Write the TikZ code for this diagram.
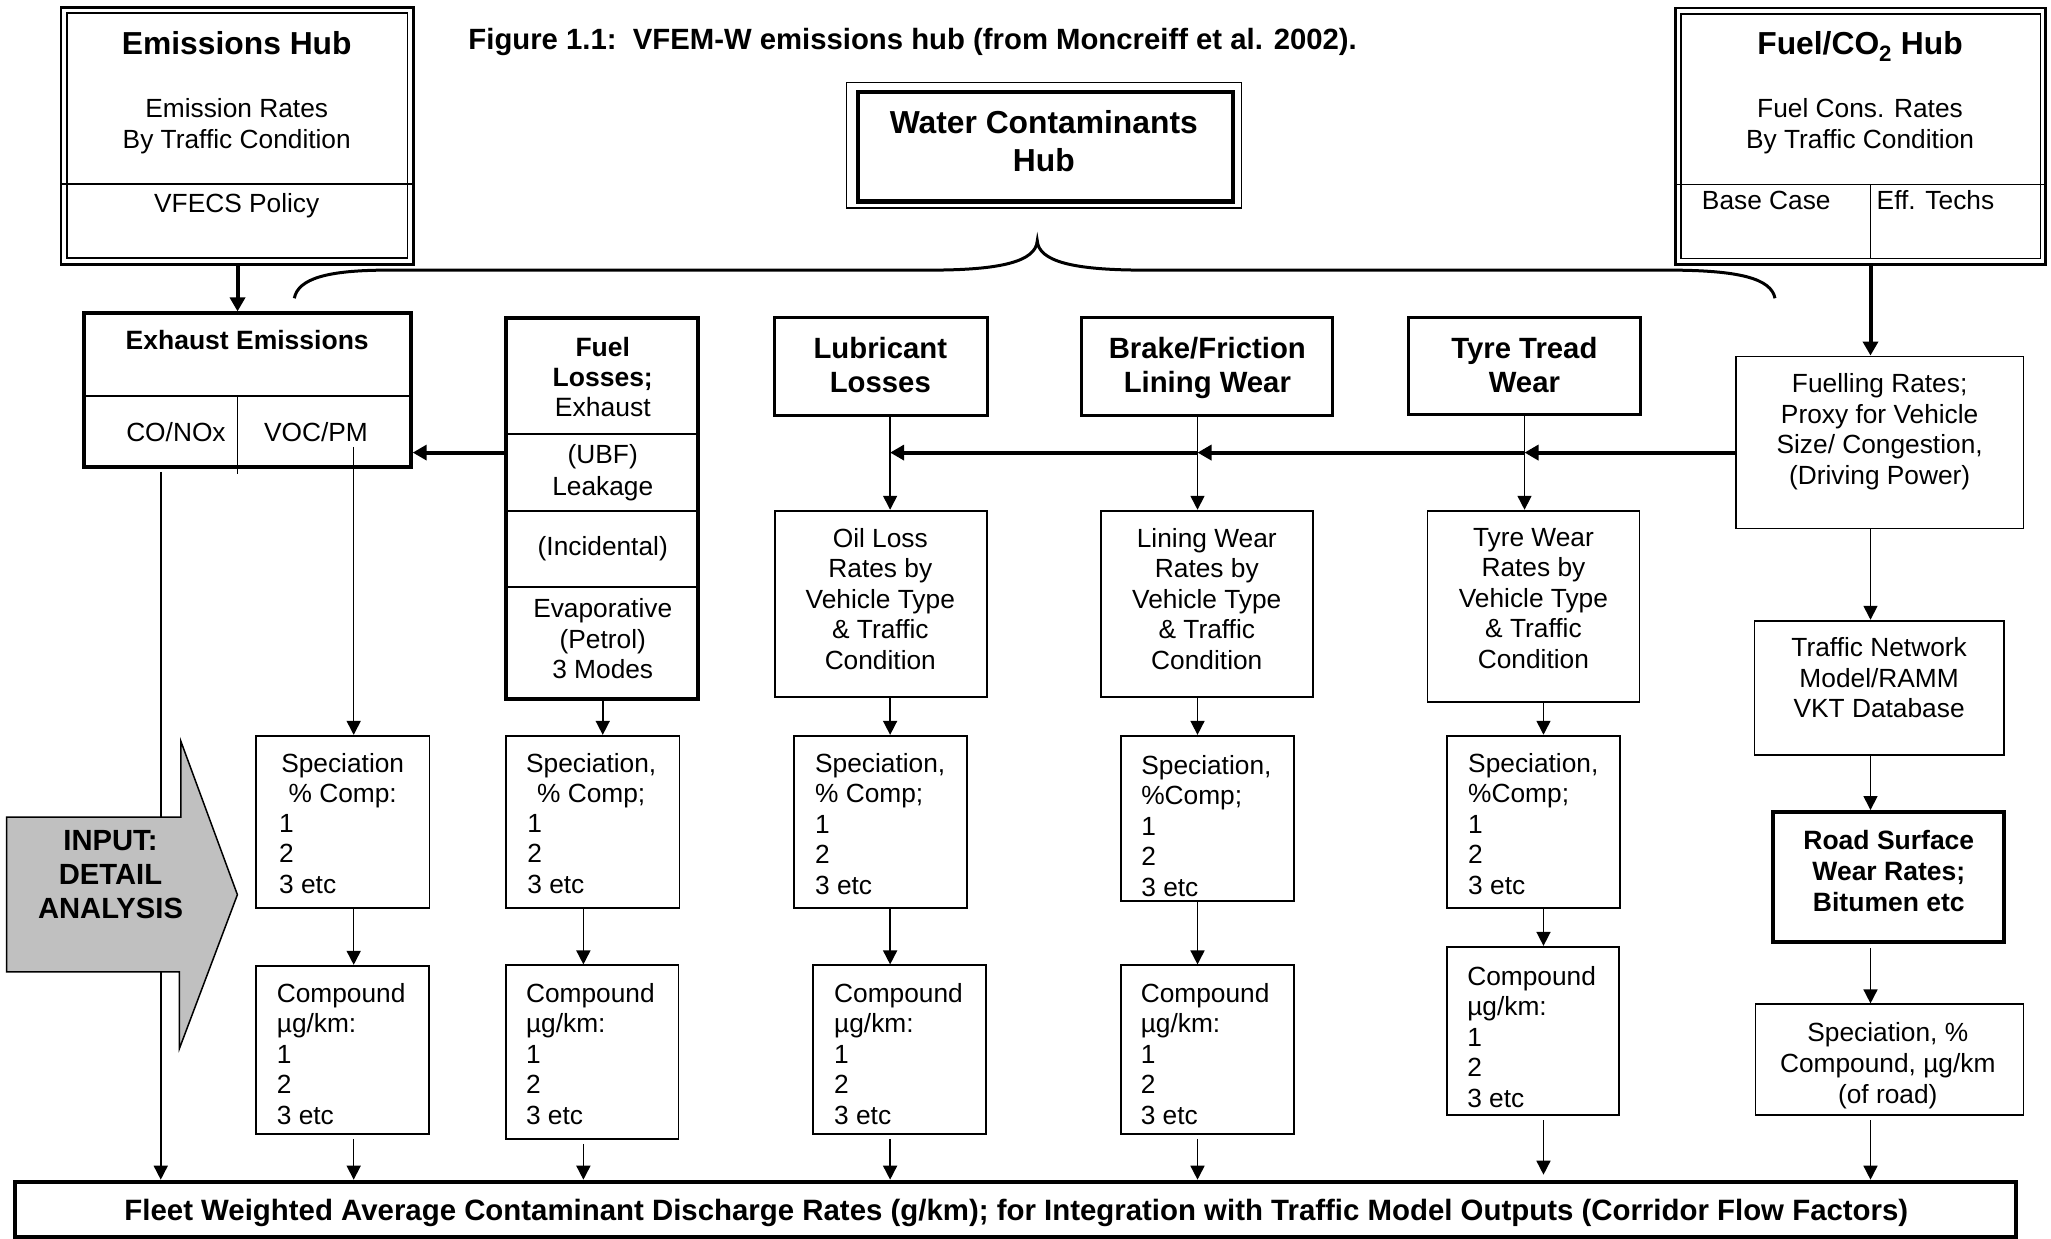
\documentclass[tikz,border=0pt]{standalone}
\usepackage{fontspec}
\setmainfont{Liberation Sans}
\usetikzlibrary{arrows.meta,fit}
\definecolor{arrowgray}{RGB}{192,192,192}
\newcommand\nf{\fontsize{26.3}{30.5}\selectfont}
\newcommand\nfw{\fontsize{26.3}{31.4}\selectfont}
\newcommand\hubf{\fontsize{31.8}{38}\selectfont\bfseries}
\newcommand\hdf{\fontsize{29.3}{34}\selectfont\bfseries}
\newcommand\bsf{\fontsize{26.5}{30.5}\selectfont\bfseries}
\begin{document}
\begin{tikzpicture}[x=1.308pt,y=-1.308pt,
  bx/.style={draw, line width=1.8pt, inner sep=0pt},
  thickbx/.style={draw, line width=4pt, inner sep=0pt},
  medbx/.style={draw, line width=3pt, inner sep=0pt},
  txt/.style={inner sep=0pt, align=center, font=\nf, anchor=north},
  ltxt/.style={inner sep=0pt, align=left, font=\nf, anchor=north west},
  btxt/.style={inner sep=0pt, font=\nf, anchor=base},
  conn/.style={line width=1.6pt, -{Triangle[length=14pt,width=14pt]}},
  bigconn/.style={line width=4pt, -{Triangle[length=14pt,width=15pt]}},
  divline/.style={line width=1.8pt},
]
\useasboundingbox (0,0) rectangle (1568,947);
\fill[white] (0,0) rectangle (1568,947);

% ---------- column coordinates ----------
\coordinate (cA) at (122.9,0);
\coordinate (cB) at (270.4,0);
\coordinate (cC) at (460.8,0);
\coordinate (cD) at (446,0);
\coordinate (cE) at (680.5,0);
\coordinate (cF) at (915.5,0);
\coordinate (cG) at (1165.5,0);
\coordinate (cH) at (1180,0);
\coordinate (cI) at (1430,0);
\coordinate (cJ) at (181.6,0);
\coordinate (rowY) at (0,346);

% ---------- title ----------
\node[inner sep=0pt, anchor=base west, font=\fontsize{29.3}{34}\selectfont\bfseries] (title) at (358,38)
  {Figure 1.1:\ \ VFEM-W emissions hub (from Moncreiff et al. 2002).};

% ---------- Emissions hub ----------
\node[draw, line width=2.6pt, inner sep=0pt, fit={(46.5,5.6) (316,202)}] (hubE) {};
\node[draw, line width=1.8pt, inner sep=0pt, fit={(51,10.2) (311.5,197.5)}] (hubEi) {};
\draw[divline] (46.5,140.5) -- (316,140.5);
\node[btxt, font=\hubf] (tHubE) at (181,41.7) {Emissions Hub};
\node[txt, font=\nfw] (tHubE2) at (181,74.8) {Emission Rates\\By Traffic Condition};
\node[btxt] (tHubE3) at (181,162.2) {VFECS Policy};

% ---------- Water contaminants hub ----------
\node[draw, line width=1.2pt, inner sep=0pt, fit={(647,63) (949,159)}] (hubW) {};
\node[draw, line width=4.5pt, inner sep=0pt, fit={(656,70.5) (942.5,154)}] (hubWi) {};
\node[txt, font=\hubf] (tHubW) at (798,84.3) {Water Contaminants\\Hub};

% ---------- brace ----------
\draw[line width=3pt] (225,228) .. controls (228,213) and (250,206.5) .. (297,206.5) -- (711,206.5)
  .. controls (765,206.5) and (792,200) .. (793,184)
  .. controls (794,200) and (821,206.5) .. (875,206.5) -- (1275,206.5)
  .. controls (1330,206.5) and (1354,213) .. (1357,228);

% ---------- Fuel/CO2 hub ----------
\node[draw, line width=2.6pt, inner sep=0pt, fit={(1281,6) (1564,202)}] (hubF) {};
\node[draw, line width=1.8pt, inner sep=0pt, fit={(1285,10.4) (1560,197.6)}] (hubFi) {};
\draw[divline] (1281,141) -- (1564,141);
\coordinate (dF) at (1430,141);
\draw[line width=1.6pt] (dF) -- (hubFi.south -| cI);
\node[btxt, font=\hubf] (tHubF) at (1422,41.7) {Fuel/CO\textsubscript{2} Hub};
\node[txt, font=\nfw] (tHubF2) at (1422,74.8) {Fuel Cons. Rates\\By Traffic Condition};
\node[btxt, anchor=base west] (tBase) at (1301,160.2) {Base Case};
\node[btxt, anchor=base west] (tEff) at (1434.6,160.2) {Eff. Techs};

% ---------- second row ----------
\node[thickbx, fit={(64,239.6) (314,357)}] (exh) {};
\draw[divline] (64,302.5) -- (314,302.5);
\draw[line width=1.6pt] (181.6,302.5) -- (181.6,362);
\node[btxt, font=\bsf] (tExh) at (189,267.3) {Exhaust Emissions};
\node[btxt] (tCO) at (134.5,337.7) {CO/NOx};
\node[btxt] (tVOC) at (241.5,337.7) {VOC/PM};
\coordinate (exhVOC) at (270.4,341.6);

\node[thickbx, fit={(387,243) (533.5,534)}] (fuel) {};
\draw[divline] (387,332) -- (533.5,332);
\draw[divline] (387,390.4) -- (533.5,390.4);
\draw[divline] (387,449) -- (533.5,449);
\node[txt, font=\fontsize{26.5}{30}\selectfont] (tFuel1) at (460.8,257.7) {\textbf{Fuel}\\\textbf{Losses;}\\Exhaust};
\node[txt, font=\nfw] (tFuel2) at (460.8,339.8) {(UBF)\\Leakage};
\node[btxt] (tFuel3) at (460.8,425) {(Incidental)};
\node[txt, font=\fontsize{26.3}{30.7}\selectfont] (tFuel4) at (460.8,457.4) {Evaporative\\(Petrol)\\3 Modes};

\node[medbx, fit={(592,242.6) (754.8,317.3)}] (lub) {};
\node[txt, font=\hdf] (tLub) at (673,257.8) {Lubricant\\Losses};
\node[medbx, fit={(827,242.6) (1019,317.3)}] (brake) {};
\node[txt, font=\hdf] (tBrake) at (923,257.8) {Brake/Friction\\Lining Wear};
\node[medbx, fit={(1077,243) (1254,317)}] (tyre) {};
\node[txt, font=\hdf] (tTyre) at (1165.4,257.8) {Tyre Tread\\Wear};

\node[bx, fit={(1327,272.5) (1547,404)}] (fuelling) {};
\node[txt] (tFuelling) at (1437,285.7) {Fuelling Rates;\\Proxy for Vehicle\\Size/ Congestion,\\(Driving Power)};

% ---------- rate boxes ----------
\node[bx, fit={(592.6,390.4) (754.4,533)}] (oil) {};
\node[txt] (tOil) at (673,403.6) {Oil Loss\\Rates by\\Vehicle Type\\\& Traffic\\Condition};
\node[bx, fit={(842,390.4) (1004,533)}] (lining) {};
\node[txt] (tLining) at (922.6,403.6) {Lining Wear\\Rates by\\Vehicle Type\\\& Traffic\\Condition};
\node[bx, fit={(1091.3,390.4) (1253.4,536.8)}] (tyrew) {};
\node[txt] (tTyrew) at (1172.3,403.6) {Tyre Wear\\Rates by\\Vehicle Type\\\& Traffic\\Condition};

% ---------- speciation boxes ----------
\node[bx, fit={(195.6,562.5) (328.3,694.4)}] (spec1) {};
\node[txt] (tSpec1a) at (262,575.8) {Speciation\\\% Comp:};
\node[ltxt] (tSpec1b) at (213.3,622.3) {1\\2\\3 etc};
\node[bx, fit={(386.7,562.5) (519.5,694.4)}] (spec2) {};
\node[txt] (tSpec2a) at (452,575.8) {Speciation,\\\% Comp;};
\node[ltxt] (tSpec2b) at (403,622.3) {1\\2\\3 etc};
\node[bx, fit={(606.9,562.5) (739.4,694.4)}] (spec3) {};
\node[ltxt] (tSpec3) at (623,575.8) {Speciation,\\\% Comp;\\1\\2\\3 etc};
\node[bx, fit={(856.7,562.5) (989.5,689)}] (spec4) {};
\begin{scope}
\clip (856.7,562.5) rectangle (989.5,688);
\node[ltxt] (tSpec4) at (872.4,577) {Speciation,\\\%Comp;\\1\\2\\3 etc};
\end{scope}
\node[bx, fit={(1106.5,562.4) (1238.5,694.4)}] (spec5) {};
\node[ltxt] (tSpec5) at (1122.3,575.8) {Speciation,\\\%Comp;\\1\\2\\3 etc};

% ---------- compound boxes ----------
\node[bx, fit={(196,738.3) (328.2,867)}] (comp1) {};
\node[ltxt] (tComp1) at (211.5,751.5) {Compound\\µg/km:\\1\\2\\3 etc};
\node[bx, fit={(386.6,738) (518.7,870.8)}] (comp2) {};
\node[ltxt] (tComp2) at (402,751.5) {Compound\\µg/km:\\1\\2\\3 etc};
\node[bx, fit={(621.6,738) (753.8,867)}] (comp3) {};
\node[ltxt] (tComp3) at (637.6,751.5) {Compound\\µg/km:\\1\\2\\3 etc};
\node[bx, fit={(856.8,738) (989,867)}] (comp4) {};
\node[ltxt] (tComp4) at (872,751.5) {Compound\\µg/km:\\1\\2\\3 etc};
\node[bx, fit={(1106.3,723.8) (1238,852.5)}] (comp5) {};
\begin{scope}
\clip (1106.3,723.8) rectangle (1238,851.5);
\node[ltxt] (tComp5) at (1121.6,738.5) {Compound\\µg/km:\\1\\2\\3 etc};
\end{scope}

% ---------- right column ----------
\node[bx, fit={(1341.3,474.5) (1532.3,577.2)}] (traffic) {};
\node[txt, font=\fontsize{26.3}{30.7}\selectfont] (tTraffic) at (1436.6,487.2) {Traffic Network\\Model/RAMM\\VKT Database};
\node[thickbx, fit={(1355.8,620.8) (1532.3,720.4)}] (road) {};
\node[txt, font=\fontsize{26.5}{31}\selectfont\bfseries] (tRoad) at (1444,634.4) {Road Surface\\Wear Rates;\\Bitumen etc};
\node[bx, fit={(1342,767.8) (1547,852.5)}] (specroad) {};
\node[txt, font=\fontsize{26.3}{30.9}\selectfont] (tSpecroad) at (1443.2,781.5) {Speciation, \%\\Compound, µg/km\\(of road)};

% ---------- fleet box ----------
\node[thickbx, fit={(11.3,903.4) (1541,945.5)}] (fleet) {};
\node[btxt, font=\fontsize{29.4}{34}\selectfont\bfseries] (tFleet) at (777,933) {Fleet Weighted Average Contaminant Discharge Rates (g/km); for Integration with Traffic Model Outputs (Corridor Flow Factors)};

% ---------- connectors ----------
\draw[bigconn] (hubE.south -| cJ) -- (exh.north -| cJ);
\draw[bigconn] (hubF.south -| cI) -- (fuelling.north -| cI);
\draw[bigconn] (fuelling.west |- rowY) -- (rowY -| cG);
\draw[bigconn] (rowY -| cG) -- (rowY -| cF);
\draw[bigconn] (rowY -| cF) -- (rowY -| cE);
\draw[bigconn] (fuel.west |- rowY) -- (exh.east |- rowY);

\draw[conn] (lub.south -| cE) -- (oil.north -| cE);
\draw[conn] (brake.south -| cF) -- (lining.north -| cF);
\draw[conn] (tyre.south -| cG) -- (tyrew.north -| cG);

\draw[conn] (exhVOC) -- (spec1.north -| cB);
\draw[conn] (spec1.south -| cB) -- (comp1.north -| cB);
\draw[conn, shorten <=4pt] (comp1.south -| cB) -- (fleet.north -| cB);

\draw[conn] (fuel.south -| cC) -- (spec2.north -| cC);
\draw[conn] (spec2.south -| cD) -- (comp2.north -| cD);
\draw[conn, shorten <=4pt] (comp2.south -| cD) -- (fleet.north -| cD);

\draw[conn] (oil.south -| cE) -- (spec3.north -| cE);
\draw[conn] (spec3.south -| cE) -- (comp3.north -| cE);
\draw[conn, shorten <=4pt] (comp3.south -| cE) -- (fleet.north -| cE);

\draw[conn] (lining.south -| cF) -- (spec4.north -| cF);
\draw[conn] (spec4.south -| cF) -- (comp4.north -| cF);
\draw[conn, shorten <=4pt] (comp4.south -| cF) -- (fleet.north -| cF);

\draw[conn] (tyrew.south -| cH) -- (spec5.north -| cH);
\draw[conn] (spec5.south -| cH) -- (comp5.north -| cH);
\draw[conn, shorten <=4pt, shorten >=5pt] (comp5.south -| cH) -- (fleet.north -| cH);

\draw[conn] (fuelling.south -| cI) -- (traffic.north -| cI);
\draw[conn] (traffic.south -| cI) -- (road.north -| cI);
\draw[conn, shorten <=4pt] (road.south -| cI) -- (specroad.north -| cI);
\draw[conn, shorten <=4pt] (specroad.south -| cI) -- (fleet.north -| cI);

\draw[conn, shorten <=3pt] (exh.south -| cA) -- (fleet.north -| cA);

% ---------- input arrow ----------
\filldraw[fill=arrowgray, line width=1.5pt] (5.1,624.7) -- (138.2,624.7) -- (138.2,566.5) -- (181.5,684)
  -- (137.2,801.5) -- (137.2,742.9) -- (5.1,742.9) -- cycle;
\node[txt, font=\fontsize{29.2}{33.6}\selectfont\bfseries] (tInput) at (84.5,635) {INPUT:\\DETAIL\\ANALYSIS};
\end{tikzpicture}
\end{document}
